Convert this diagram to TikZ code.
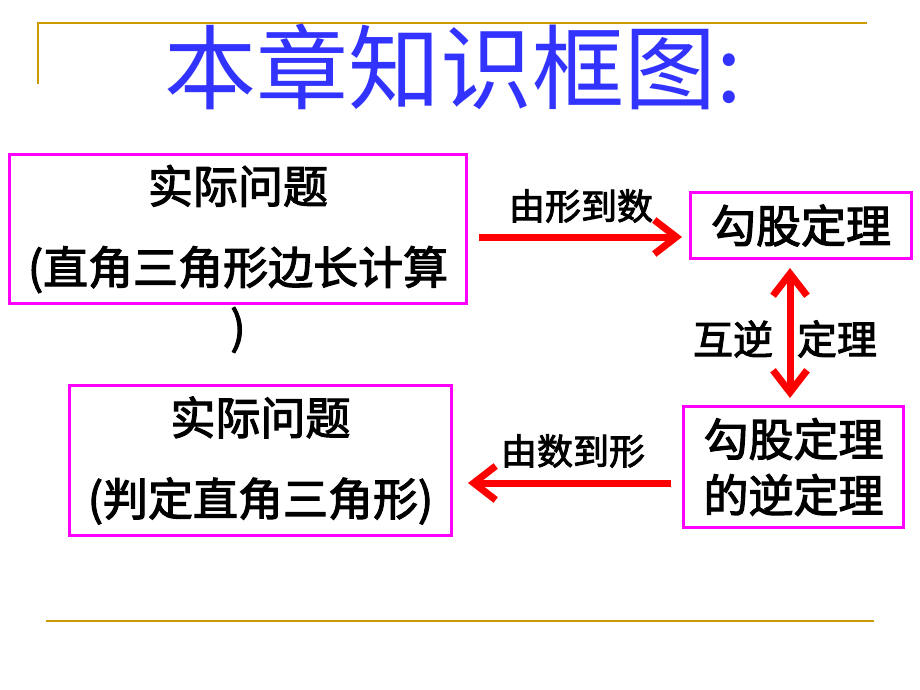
\documentclass[tikz,border=0pt]{standalone}
\usepackage{fontspec}
\newfontfamily\cjk{Noto Sans CJK SC}
\newfontfamily\cjkfb[FakeBold=2.5]{Noto Sans CJK SC}
\usetikzlibrary{arrows.meta}
\definecolor{gold}{HTML}{CC9900}
\definecolor{mag}{HTML}{FF00FF}
\definecolor{ttl}{HTML}{3333FF}
\begin{document}
\begin{tikzpicture}[x=1pt,y=-1pt,
  box/.style={draw=mag, line width=3pt, inner sep=0pt, align=center,
    font=\cjkfb\fontsize{45}{81}\selectfont},
  lbl/.style={inner sep=0pt, font=\cjkfb\fontsize{36}{40}\selectfont},
  sidelbl/.style={inner sep=0pt, font=\cjkfb\fontsize{40}{44}\selectfont},
  redarrow/.style={draw=red, line width=7pt, -{Straight Barb[length=22pt,width=34pt]}},
  reddouble/.style={draw=red, line width=7pt, {Straight Barb[length=22pt,width=34pt]}-{Straight Barb[length=22pt,width=34pt]}},
  goldline/.style={draw=gold, line width=2.5pt}]
\useasboundingbox[fill=white] (0,0) rectangle (920,690);
% decorative lines
\coordinate (tl) at (38,84);
\coordinate (tc) at (38,23);
\coordinate (tr) at (867,23);
\draw[goldline] (tl) -- (tc) -- (tr);
\coordinate (bl) at (46,621);
\coordinate (br) at (874,621);
\draw[goldline] (bl) -- (br);
% title
\node[font=\cjk\fontsize{92}{92}\selectfont, text=ttl, inner sep=0pt] (title) at (453,67) {本章知识框图:};
% boxes
\node[box, minimum width=457pt, minimum height=149pt] (box1) at (238,229)
  {实际问题\\(直角三角形边长计算};
\node[inner sep=0pt, font=\cjkfb\fontsize{45}{50}\selectfont] (paren) at (238,330) {)};
\node[box, minimum width=221pt, minimum height=66pt] (box2) at (801,225.5) {勾股定理};
\node[box, minimum width=220pt, minimum height=121pt, font=\cjkfb\fontsize{45}{56}\selectfont] (box3) at (793.5,467)
  {勾股定理\\的逆定理};
\node[box, minimum width=382pt, minimum height=150pt] (box4) at (260.5,460.5)
  {实际问题\\(判定直角三角形)};
% labels
\node[lbl] (l1) at (581,206) {由形到数};
\node[lbl] (l2) at (573,451) {由数到形};
\node[sidelbl] (l3) at (733,339) {互逆};
\node[sidelbl] (l4) at (837,339) {定理};
% arrows
\path (box1.east) ++(11,8) coordinate (a1s);
\path (box2.west) ++(-7,11.5) coordinate (a1e);
\draw[redarrow] (a1s) -- (a1e);
\path (box2.south) ++(-11,8) coordinate (a2s);
\path (box3.north) ++(-3.5,-7) coordinate (a2e);
\draw[reddouble] (a2s) -- (a2e);
\path (box3.west) ++(-11,16) coordinate (a3s);
\path (box4.east) ++(15,22.5) coordinate (a3e);
\draw[redarrow] (a3s) -- (a3e);
\end{tikzpicture}
\end{document}
